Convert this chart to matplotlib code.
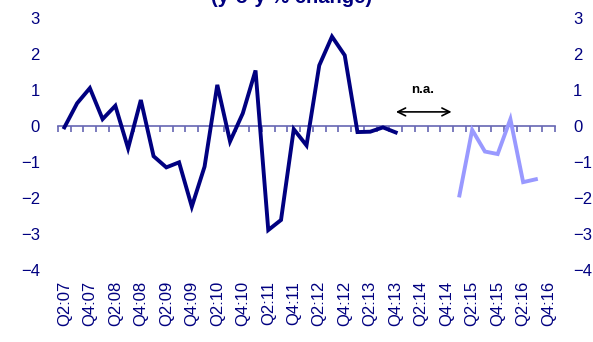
import matplotlib
matplotlib.use("Agg")
import matplotlib.pyplot as plt
import numpy as np

plt.rcParams['font.family'] = ['Liberation Sans', 'DejaVu Sans']

# quarters Q2:07 .. Q4:16
quarters = []
for yr in range(2007, 2017):
    for q in range(1, 5):
        if yr == 2007 and q == 1:
            continue
        quarters.append("Q%d:%02d" % (q, yr % 100))

# dark series: Q2:07 .. Q4:13
dark_vals = [-0.05, 0.62, 1.04, 0.18, 0.55, -0.63, 0.71, -0.85, -1.16, -1.02,
             -2.25, -1.14, 1.13, -0.44, 0.34, 1.53, -2.9, -2.62, -0.1, -0.55,
             1.67, 2.47, 1.95, -0.18, -0.17, -0.05, -0.19]
# light series: Q1:15 .. Q3:16
light_start = "Q1:15"
light_vals = [-1.94, -0.12, -0.72, -0.79, 0.18, -1.57, -1.49]

navy = '#000080'
axis_col = '#6666b3'

fig = plt.figure(figsize=(5.93, 3.42), dpi=100)
ax = fig.add_axes([58/593, 1-269.7/342, (555-58)/593, (269.7-17.5)/342])

x = np.arange(len(quarters))
ax.plot(x[:len(dark_vals)], dark_vals, color=navy, lw=2.8, solid_joinstyle='miter')
i0 = quarters.index(light_start)
ax.plot(x[i0:i0+len(light_vals)], light_vals, color='#9999ff', lw=2.8, solid_joinstyle='miter')

ax.set_xlim(-0.5, len(quarters) - 0.5)
ax.set_ylim(-4, 3)
for s in ax.spines.values():
    s.set_visible(False)

ax.set_xticks(x[::2])
ax.set_xticklabels(quarters[::2], rotation=90, color=navy, fontsize=12)
ax.tick_params(axis='x', length=0, pad=8)
ax.set_yticks(range(-4, 4))
ax.tick_params(axis='y', length=0, pad=13, labelcolor=navy, labelsize=12,
               labelright=True)

# zero line with quarter ticks pointing down
sec = ax.secondary_xaxis(4/7)
for s in sec.spines.values():
    s.set_color(axis_col)
    s.set_linewidth(1.2)
sec.set_xticks(np.arange(-0.5, len(quarters), 1.0))
sec.set_xticklabels([])
sec.tick_params(axis='x', length=4, width=1.2, color=axis_col,
                labelbottom=False, labeltop=False, direction='in')

# n.a. annotation
ax.annotate('', xy=(25.8, 0.38), xytext=(30.6, 0.38),
            arrowprops=dict(arrowstyle='<->', color='black', lw=1.2,
                            mutation_scale=14))
ax.text(28.1, 0.98, 'n.a.', ha='center', va='center', fontsize=9.5,
        fontweight='bold')

fig.text(292/593, 1-3/342, '(y-o-y % change)', ha='center', va='baseline',
         fontsize=14.5, fontweight='bold', color=navy)

fig.savefig('out.png', dpi=100)
